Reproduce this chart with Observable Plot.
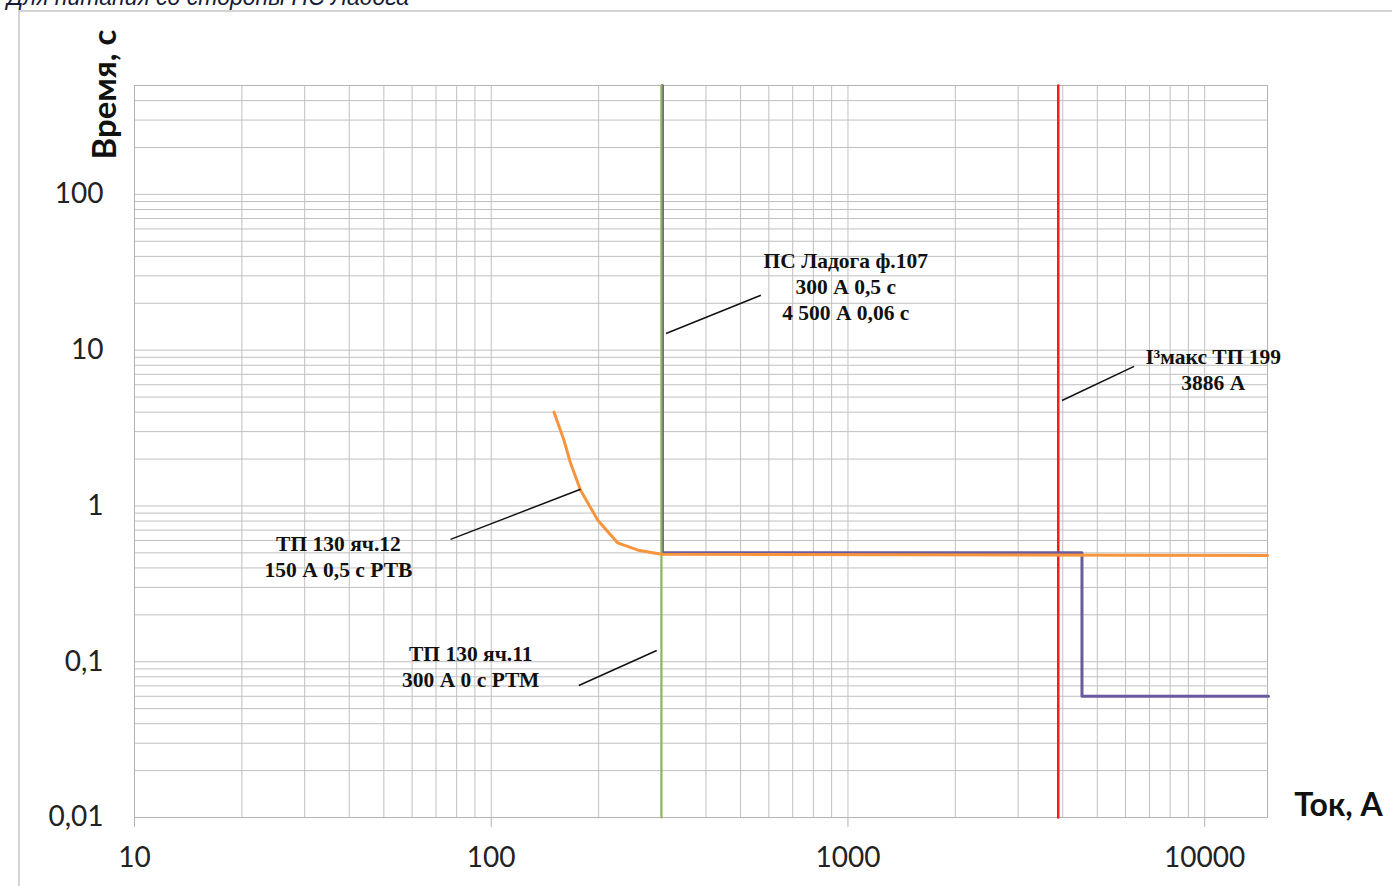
<!DOCTYPE html>
<html><head><meta charset="utf-8">
<script src="https://cdn.jsdelivr.net/npm/d3@7"></script>
<script src="https://cdn.jsdelivr.net/npm/@observablehq/plot@0.6"></script>
<style>
html,body{margin:0;padding:0;background:#fff;overflow:hidden;width:1392px;height:886px}
#page{position:absolute;left:18px;top:10px;right:0;bottom:0;border-left:2px solid #d4d4d4;border-top:2px solid #d4d4d4}
#hdr{position:absolute;left:7px;top:-16px;font:italic 23px "Liberation Sans",Arial,sans-serif;color:#141c38;white-space:nowrap}
#chart{position:absolute;left:0;top:0}
</style></head><body>
<div id="hdr">Для питания со стороны ПС Ладога</div>
<div id="page"></div>
<div id="chart"></div>
<script>
// Axis ticks
const xTicks = [10, 100, 1000, 10000];
const xTickLabels = ["10", "100", "1000", "10000"];
const yTicks = [0.01, 0.1, 1, 10, 100];
const yTickLabels = ["0,01", "0,1", "1", "10", "100"];
const xDomain = [10, 15000];
const yDomain = [0.01, 500];

// ТП 130 яч.12 — 150 А 0,5 с РТВ (orange)
const tp12I = [150, 160, 167, 178, 199, 226, 258, 300, 15000];
const tp12T = [4.0, 2.63, 1.87, 1.26, 0.81, 0.58, 0.52, 0.49, 0.48];

// ПС Ладога ф.107 — 300 А 0,5 с; 4500 А 0,06 с (purple)
const ladI = [300, 300, 4500, 4500, 15000];
const ladT = [500, 0.5, 0.5, 0.06, 0.06];

// ТП 130 яч.11 — 300 А 0 с РТМ (green)
const tp11I = [300, 300];
const tp11T = [0.01, 500];

// I3 макс ТП 199 — 3886 А (red)
const i3I = [3886, 3886];
const i3T = [0.01, 500];

// Annotations
const annText = ["ПС Ладога ф.107\n300 А 0,5 с\n4 500 А 0,06 с", "I³макс ТП 199\n3886 А", "ТП 130 яч.12\n150 А 0,5 с РТВ", "ТП 130 яч.11\n300 А 0 с РТМ"];
const annX = [986, 10570, 37.3, 87.6];
const annY = [26.0, 7.63, 0.478, 0.094];
const leadX1 = [309, 3981, 76.9, 176];
const leadY1 = [12.8, 4.75, 0.61, 0.0704];
const leadX2 = [570, 6340, 178, 291];
const leadY2 = [22.5, 7.87, 1.28, 0.118];

const mult = [1,2,3,4,5,6,7,8,9];
const gridX = xTicks.flatMap(d => mult.map(k => k * d)).filter(v => v <= xDomain[1]);
const gridY = yTicks.flatMap(d => mult.map(k => k * d)).filter(v => v <= yDomain[1]);

const toPts = (xs, ys) => xs.map((x, i) => ({x, y: ys[i]}));
const ann = annText.map((t, i) => ({t, x: annX[i], y: annY[i]}));
const leads = leadX1.map((x1, i) => ({x1, y1: leadY1[i], x2: leadX2[i], y2: leadY2[i]}));

const chart = Plot.plot({
  width: 1392, height: 886,
  marginLeft: 134, marginRight: 125, marginTop: 85, marginBottom: 69,
  style: {background: "transparent", fontFamily: "Lato, sans-serif"},
  x: {type: "log", domain: xDomain},
  y: {type: "log", domain: yDomain},
  marks: [
    Plot.ruleX(gridX, {stroke: "#c0c0c0", strokeWidth: 1}),
    Plot.ruleY(gridY, {stroke: "#c0c0c0", strokeWidth: 1}),
    Plot.frame({stroke: "#b4b4b4"}),
    Plot.axisX({ticks: xTicks, tickFormat: d => xTickLabels[xTicks.indexOf(d)], tickSize: 10, tickPadding: 20, fontSize: 28, stroke: "#b4b4b4", fill: "#222", label: null}),
    Plot.axisY({ticks: yTicks, tickFormat: d => yTickLabels[yTicks.indexOf(d)], tickSize: 0, tickPadding: 31, fontSize: 28, fill: "#222", label: null}),
    Plot.line(toPts(i3I, i3T), {x: "x", y: "y", stroke: "#ff1a1a", strokeWidth: 2.5}),
    Plot.line(toPts(ladI, ladT), {x: "x", y: "y", stroke: "#6a5a9e", strokeWidth: 3, dx: 1}),
    Plot.line(toPts(tp11I, tp11T), {x: "x", y: "y", stroke: "#8db558", strokeWidth: 2.2}),
    Plot.line(toPts(tp12I, tp12T), {x: "x", y: "y", stroke: "#f7953f", strokeWidth: 3, curve: "linear"}),
    Plot.link(leads, {x1: "x1", y1: "y1", x2: "x2", y2: "y2", stroke: "#111", strokeWidth: 1.5}),
    Plot.text(ann, {x: "x", y: "y", text: "t", fontFamily: "Liberation Serif, serif", fontWeight: "bold", fontSize: 21.5, lineHeight: 1.22, textAnchor: "middle", fill: "#111"}),
    Plot.text(["Время, с"], {frameAnchor: "top-left", rotate: -90, dx: -42, dy: 9, fontSize: 33, fontWeight: "bold", fontFamily: "Lato, sans-serif", fill: "#111", textAnchor: "middle"}),
    Plot.text(["Ток, А"], {frameAnchor: "bottom-right", dx: 71, dy: -2, fontSize: 32, fontWeight: "bold", fontFamily: "Lato, sans-serif", fill: "#111", textAnchor: "middle"})
  ]
});
document.getElementById("chart").appendChild(chart);
</script>
</body></html>
